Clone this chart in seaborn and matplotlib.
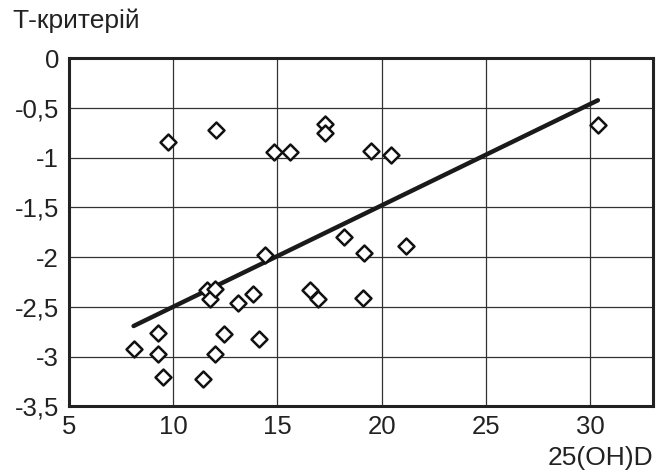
import numpy as np
import pandas as pd
import matplotlib
matplotlib.use("Agg")
import matplotlib.pyplot as plt
import seaborn as sns

# 25(OH)D values vs T-criterion
vit_d = [9.78, 12.08, 14.82, 15.61, 17.28, 17.28, 19.48, 20.46,
         18.20, 19.16, 21.14, 16.57, 16.96, 19.08, 8.11, 9.26,
         9.26, 9.54, 11.43, 11.99, 12.43, 14.10, 13.12, 13.83,
         11.65, 11.75, 12.03, 14.42, 30.36]
t_score = [-0.84, -0.72, -0.94, -0.94, -0.66, -0.75, -0.93, -0.97,
           -1.80, -1.96, -1.89, -2.33, -2.42, -2.41, -2.92, -2.76,
           -2.97, -3.21, -3.23, -2.97, -2.77, -2.82, -2.46, -2.37,
           -2.33, -2.42, -2.32, -1.98, -0.67]

# linear trend shown on the chart
trend_slope = 0.102
trend_intercept = -3.52

x_ticks = [5, 10, 15, 20, 25, 30]
y_ticks = [0, -0.5, -1, -1.5, -2, -2.5, -3, -3.5]

sns.set_style("white")
plt.rcParams['font.family'] = ['Liberation Sans', 'DejaVu Sans']

df = pd.DataFrame({"vit_d": vit_d, "t": t_score})
line_x = np.array([df["vit_d"].min(), df["vit_d"].max()])
line_df = pd.DataFrame({"x": line_x, "y": trend_slope * line_x + trend_intercept})

fig = plt.figure(figsize=(6.67, 4.73), dpi=100)
ax = fig.add_axes([0.103, 0.141, 0.876, 0.736])

sns.lineplot(data=line_df, x="x", y="y", ax=ax, color="#1a1a1a", linewidth=3.2, zorder=3)
sns.scatterplot(data=df, x="vit_d", y="t", ax=ax, marker="D", s=66,
                color="white", edgecolor="#111111", linewidth=1.8, zorder=4)

ax.set_xlim(5, 33)
ax.set_ylim(-3.5, 0)
ax.set_xticks(x_ticks)
ax.set_yticks(y_ticks)
ax.set_yticklabels([("%g" % v).replace(".", ",") for v in y_ticks])
ax.grid(True, color="#333333", linewidth=0.9)
ax.set_axisbelow(True)
for sp in ax.spines.values():
    sp.set_color("#222222")
    sp.set_linewidth(2.2)
ax.tick_params(axis="both", length=0, labelsize=18.5, colors="#222222")
ax.tick_params(axis="x", pad=6)
ax.tick_params(axis="y", pad=7)
ax.set_xlabel("")
ax.set_ylabel("")

fig.text(0.019, 0.956, "Т-критерій", fontsize=19, color="#222222", va="center", ha="left")
fig.text(0.979, 0.031, "25(OH)D", fontsize=19, color="#222222", va="center", ha="right")

fig.savefig("out.png", dpi=100)
